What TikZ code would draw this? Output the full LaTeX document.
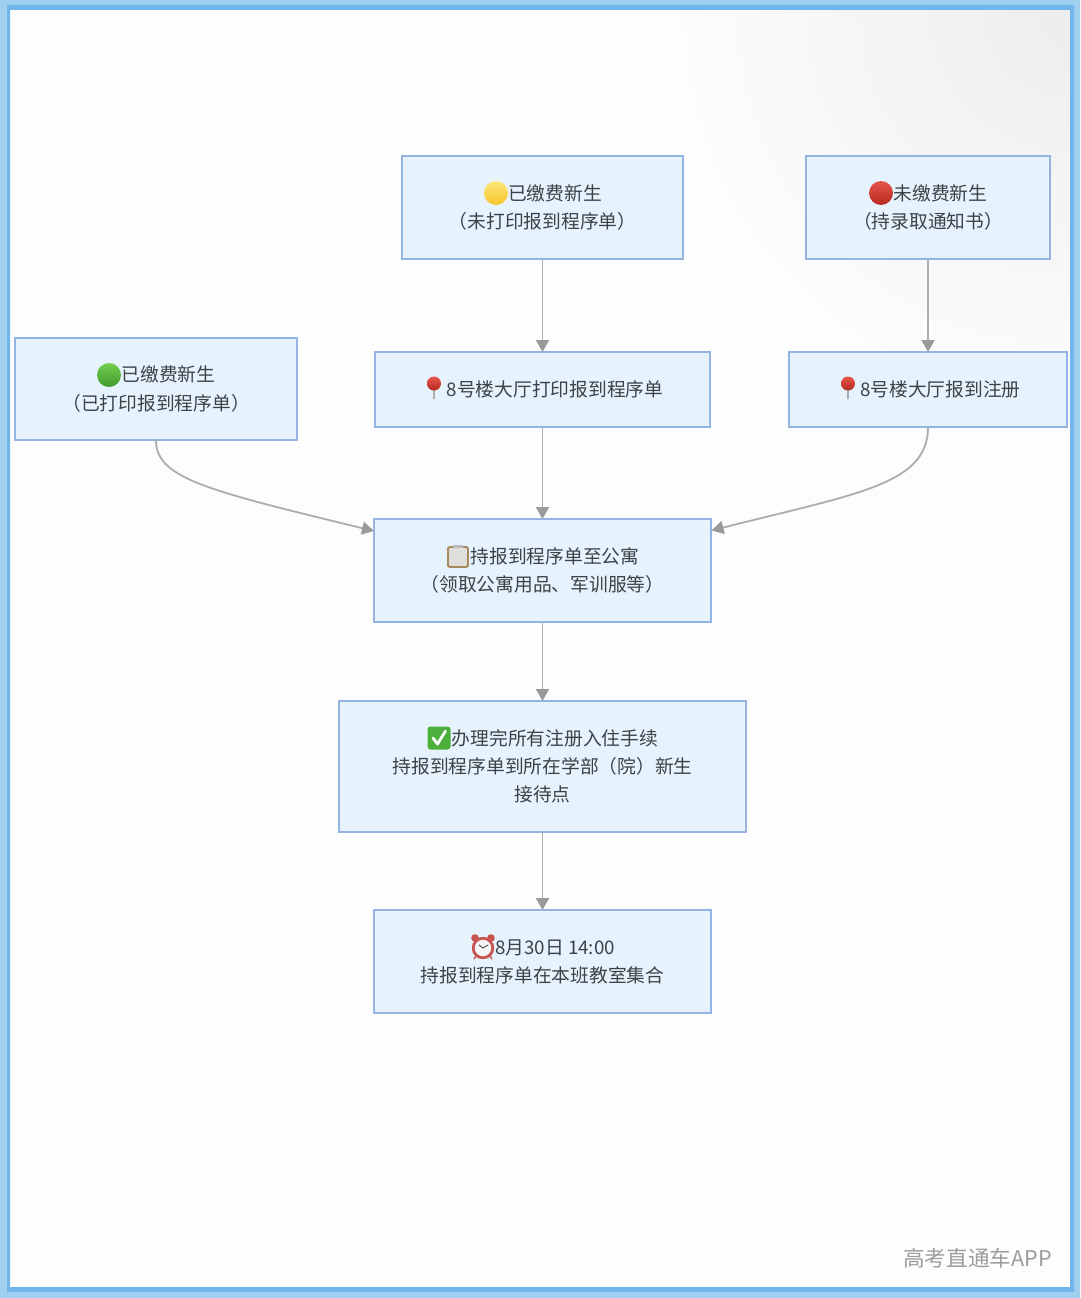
\documentclass[tikz,border=0pt]{standalone}
\usepackage{fontspec}
\setmainfont{Noto Sans CJK SC}
\usetikzlibrary{arrows.meta}
\definecolor{frameLight}{HTML}{9FD0F0}
\definecolor{frameDark}{HTML}{72B5EA}
\definecolor{boxFill}{HTML}{E6F3FD}
\definecolor{boxLine}{HTML}{93B4E4}
\definecolor{edgeLine}{HTML}{ADADAD}
\definecolor{edgeTip}{HTML}{9A9A9A}
\definecolor{inkText}{HTML}{3C4248}
\definecolor{markText}{HTML}{9C9C9C}
\definecolor{pageTint}{HTML}{EDEDED}
\definecolor{pageBase}{HTML}{FDFDFD}
\definecolor{clipEdge}{HTML}{A98A5E}
\definecolor{clipFill}{HTML}{DEDEDA}
\definecolor{okGreen}{HTML}{4CAF3C}
\definecolor{clockRed}{HTML}{C8544F}
\definecolor{yelTop}{HTML}{FFE67A}
\definecolor{yelBot}{HTML}{F6C52C}
\definecolor{redTop}{HTML}{E8554C}
\definecolor{redBot}{HTML}{B42A20}
\definecolor{grnTop}{HTML}{74CF50}
\definecolor{grnBot}{HTML}{3F9A2E}
\tikzset{
  x=1pt,y=-1pt,
  flowbox/.style={draw=boxLine,fill=boxFill,line width=1.5pt,inner sep=0pt,outer sep=0pt,
    align=center,text=inkText,font=\fontsize{18.75}{28.2}\selectfont},
  flow/.style={draw=edgeLine,line width=1.8pt,-{Triangle[length=12pt,width=13pt,color=edgeTip]}},
  yellowball/.pic={\shade[top color=yelTop,bottom color=yelBot] (0,0) circle (12);},
  redball/.pic={\shade[top color=redTop,bottom color=redBot] (0,0) circle (12);},
  greenball/.pic={\shade[top color=grnTop,bottom color=grnBot] (0,0) circle (12);},
  pinicon/.pic={
    \draw[line width=2pt,draw=gray!65,line cap=round] (0,2) -- (0,10.5);
    \shade[top color=redTop,bottom color=redBot] (0,-4.5) circle (7);
  },
  clipicon/.pic={
    \draw[draw=clipEdge,fill=clipFill,line width=1.8pt,rounded corners=1.5pt] (-10,-10) rectangle (10,10);
    \fill[gray!55] (-5,-12) rectangle (5,-9);
  },
  checkicon/.pic={
    \fill[okGreen,rounded corners=3pt] (-11.5,-11.5) rectangle (11.5,11.5);
    \draw[white,line width=2.8pt,line cap=round,line join=round] (-6,0) -- (-1.5,6) -- (6.5,-7);
  },
  clockicon/.pic={
    \fill[clockRed] (-8,-9) circle (3.8);
    \fill[clockRed] (8,-9) circle (3.8);
    \draw[clockRed,line width=1.5pt] (-7,9) -- (-9,12) (7,9) -- (9,12);
    \draw[draw=clockRed,fill=white!92!gray,line width=2.8pt] (0,1) circle (9.8);
    \draw[gray!70!black,line width=1pt,line cap=round] (0,1) -- (-4,-2) (0,1) -- (5,-2);
  },
}
\newcommand{\gap}{\hspace*{25pt}}
\begin{document}
\begin{tikzpicture}
\useasboundingbox (0,0) rectangle (1080,1298);
% page
\fill[pageBase] (0,0) rectangle (1080,1298);
\begin{scope}
  \clip (0,0) rectangle (1080,1298);
  \shade[inner color=pageTint,outer color=pageBase] (1070,10) circle (400);
\end{scope}
% frame
\fill[frameLight,even odd rule] (0,0) rectangle (1080,1298) (7,5) rectangle (1074,1292);
\fill[frameDark,even odd rule] (7,5) rectangle (1074,1292) (10,10) rectangle (1070,1287);
% boxes
\node[flowbox,minimum width=281,minimum height=103] (paid) at (542.5,207.5) {\gap 已缴费新生\\（未打印报到程序单）};
\node[flowbox,minimum width=244,minimum height=103] (unpaid) at (928,207.5) {\gap 未缴费新生\\（持录取通知书）};
\node[flowbox,minimum width=282,minimum height=102] (printed) at (156,389) {\gap 已缴费新生\\（已打印报到程序单）};
\node[flowbox,minimum width=335,minimum height=75] (printdesk) at (542.5,389.5) {\gap 8号楼大厅打印报到程序单};
\node[flowbox,minimum width=278,minimum height=75] (regdesk) at (928,389.5) {\gap 8号楼大厅报到注册};
\node[flowbox,minimum width=337,minimum height=103] (dorm) at (542.5,570.5) {\gap 持报到程序单至公寓\\（领取公寓用品、军训服等）};
\node[flowbox,minimum width=407,minimum height=131] (done) at (542.5,766.5) {\gap 办理完所有注册入住手续\\持报到程序单到所在学部（院）新生\\接待点};
\node[flowbox,minimum width=337,minimum height=103] (gather) at (542.5,961.5) {\gap 8月30日 14:00\\持报到程序单在本班教室集合};
% icons
\pic at (496,193) {yellowball};
\pic at (881,193) {redball};
\pic at (109,375) {greenball};
\pic at (434,388) {pinicon};
\pic at (848,388) {pinicon};
\pic at (458,557) {clipicon};
\pic at (439,738) {checkicon};
\pic at (483,947) {clockicon};
% connectors
\coordinate (dormL) at (374,531);
\coordinate (dormR) at (711.5,530.5);
\draw[flow] (paid.south) -- (printdesk.north);
\draw[flow] (unpaid.south) -- (regdesk.north);
\draw[flow] (printdesk.south) -- (dorm.north);
\draw[flow] (dorm.south) -- (done.north);
\draw[flow] (done.south) -- (gather.north);
\draw[flow] (printed.south) .. controls (156,478) and (205,490) .. (dormL);
\draw[flow] (regdesk.south) .. controls (928,484) and (860,493) .. (dormR);
% watermark
\node[text=markText,font=\fontsize{21.6}{26}\selectfont,inner sep=0pt] (wm) at (977.5,1258) {高考直通车APP};
\end{tikzpicture}
\end{document}
